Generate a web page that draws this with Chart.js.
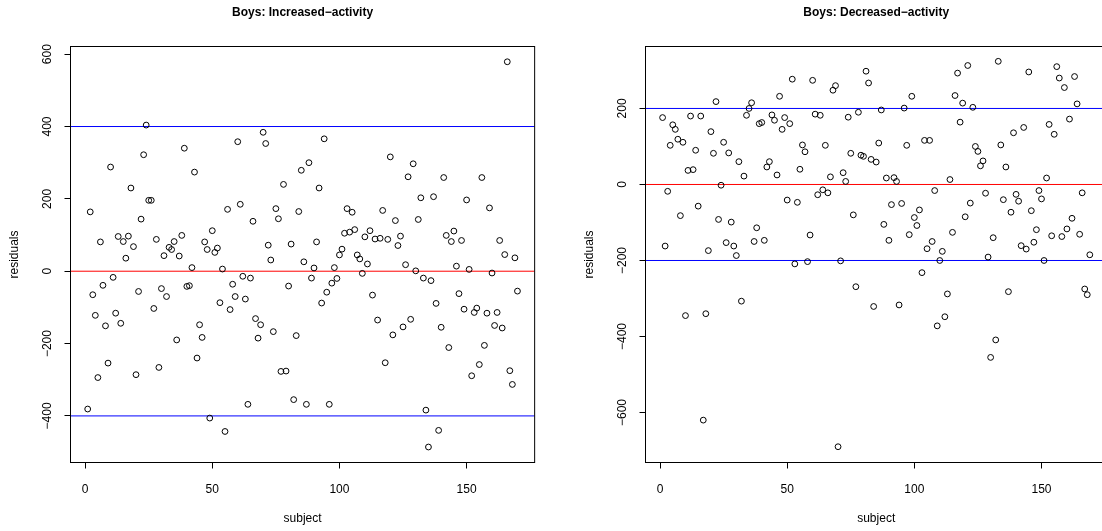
<!DOCTYPE html>
<html>
<head>
<meta charset="utf-8">
<script src="https://cdn.jsdelivr.net/npm/chart.js@4/dist/chart.umd.min.js"></script>
<style>
  html, body { margin: 0; padding: 0; background: #fff; overflow: hidden; width: 1102px; height: 531px; }
  .fig { position: absolute; top: 0; width: 575px; height: 531px; }
  #figL { left: 0; }
  #figR { left: 575px; }
</style>
</head>
<body>
<div class="fig" id="figL"><canvas id="cL" width="575" height="531"></canvas></div>
<div class="fig" id="figR"><canvas id="cR" width="575" height="531"></canvas></div>
<script>
// Residuals by subject, increased-activity group
const residualsIncreased = [
  -381, 164, -65, -122, -294, 81, -39, -151, -254, 288,
  -17, -116, 96, -144, 82, 36, 97, 230, 68, -286,
  -56, 144, 322, 404, 196, 196, -103, 88, -266, -48,
  43, -70, 66, 60, 82, -190, 42, 99, 340, -42,
  -40, 10, 274, -240, -148, -183, 81, 60, -406, 112,
  52, 64, -87, 6, -443, 171, -106, -36, -70, 358,
  185, -14, -77, -368, -19, 138, -131, -185, -148, 384,
  353, 72, 31, -167, 173, 145, -277, 240, -276, -41,
  75, -355, -178, 165, 279, 26, -368, 300, -19, 9,
  81, 230, -88, 366, -58, -368, -33, 10, -20, 45,
  61, 105, 173, 108, 163, 115, 45, 34, -6, 95,
  20, 112, -66, 89, -135, 91, 168, -253, 88, 316,
  -176, 140, 71, 97, -154, 18, 261, -133, 297, 1,
  143, 203, -19, -384, -486, -26, 206, -89, -440, -155,
  259, 99, -211, 82, 111, 14, -62, 85, -105, 197,
  5, -289, -114, -102, -258, 259, -205, -116, 175, -5,
  -150, -114, 85, -157, 46, 579, -275, -313, 37, -55
];

// Residuals by subject, decreased-activity group
const residualsDecreased = [
  176, -162, -18, 103, 157, 145, 119, -82, 111, -345,
  37, 180, 39, 90, -57, 180, -620, -340, -174, 139,
  82, 218, -92, -2, 111, -153, 83, -99, -162, -187,
  60, -307, 22, 182, 200, 215, -150, -114, 160, 163,
  -147, 46, 60, 183, 169, 25, 232, 145, 176, -41,
  160, 277, -209, -47, 40, 104, 86, -203, -133, 274,
  185, -27, 182, -14, 103, -22, 20, 248, 260, -690,
  -201, 31, 8, 177, 82, -80, -269, 190, 77, 74,
  298, 267, 66, -321, 59, 109, 196, -105, 17, -147,
  -53, 18, 8, -317, -50, 201, 103, -132, 232, -87,
  -108, -67, -232, 116, -169, 116, -150, -16, -372, -200,
  -176, -348, -288, 13, -126, 234, 293, 164, 214, -85,
  313, -49, 203, 100, 87, 49, 62, -23, -191, -455,
  -140, -409, 324, 104, -40, 46, -282, -73, 136, -26,
  -44, -161, 150, -170, 296, -69, -152, -119, -16, -38,
  -200, 17, 158, -135, 132, 310, 280, -137, 255, -117,
  172, -89, 284, 212, -131, -22, -275, -290, -185
];

// Subject index runs 1..n for each group
const subjectsIncreased = residualsIncreased.map((_, i) => i + 1);
const subjectsDecreased = residualsDecreased.map((_, i) => i + 1);

const xTickValues = [0, 50, 100, 150];
const yTicksIncreased = [-400, -200, 0, 200, 400, 600];
const yTicksDecreased = [-600, -400, -200, 0, 200];

// Horizontal guide lines: [value, colour]
const guidesIncreased = [[0, '#ff0000'], [400, '#0000ff'], [-400, '#0000ff']];
const guidesDecreased = [[0, '#ff0000'], [200, '#0000ff'], [-200, '#0000ff']];

// Axis limits: data range padded by 4% on each side
const xLimitsIncreased = [-5.76, 176.76];
const xLimitsDecreased = [-5.72, 175.72];
const yLimitsIncreased = [-528.8, 621.2];
const yLimitsDecreased = [-731.5, 363];

const FONT = '"Liberation Sans", Arial, Helvetica, sans-serif';
const fmt = v => (v < 0 ? '\u2212' + Math.abs(v) : String(v));

// Layout of each figure (pixels)
const FIG_W = 575;
const PLOT_LEFT = 70.5;
const PX_PER_SUBJECT = 2.543;

// Frame around the plot region plus all axis texts
const frameAndText = {
  id: 'frameAndText',
  afterDraw(chart, args, opts) {
    const { ctx, chartArea: a, scales: { x, y } } = chart;
    ctx.save();
    ctx.strokeStyle = '#000';
    ctx.lineWidth = 1;
    ctx.strokeRect(a.left, a.top, a.right - a.left, a.bottom - a.top);

    ctx.fillStyle = '#000';
    ctx.textAlign = 'center';
    ctx.textBaseline = 'middle';
    ctx.font = '12px ' + FONT;
    x.ticks.forEach(t => ctx.fillText(fmt(t.value), x.getPixelForValue(t.value), a.bottom + 27));
    y.ticks.forEach(t => {
      ctx.save();
      ctx.translate(a.left - 23, y.getPixelForValue(t.value));
      ctx.rotate(-Math.PI / 2);
      ctx.fillText(fmt(t.value), 0, 0);
      ctx.restore();
    });
    ctx.fillText(opts.xTitle, (a.left + a.right) / 2, a.bottom + 56);
    ctx.save();
    ctx.translate(a.left - 56, (a.top + a.bottom) / 2);
    ctx.rotate(-Math.PI / 2);
    ctx.fillText(opts.yTitle, 0, 0);
    ctx.restore();

    ctx.font = 'bold 12px ' + FONT;
    ctx.fillText(opts.title, (a.left + a.right) / 2, 13);
    ctx.restore();
  }
};

function makePanel(canvasId, title, subjects, residuals, xLimits, yTicks, yLimits, guides) {
  const points = subjects.map((s, i) => ({ x: s, y: residuals[i] }));
  const guideSets = guides.map(([v, col]) => ({
    type: 'line',
    data: [{ x: xLimits[0], y: v }, { x: xLimits[1], y: v }],
    borderColor: col,
    borderWidth: 1,
    pointRadius: 0,
    fill: false
  }));
  const plotWidth = (xLimits[1] - xLimits[0]) * PX_PER_SUBJECT;
  const padRight = FIG_W - PLOT_LEFT - plotWidth;
  return new Chart(document.getElementById(canvasId), {
    type: 'scatter',
    data: {
      datasets: [{
        data: points,
        pointStyle: 'circle',
        pointRadius: 2.9,
        borderWidth: 1,
        borderColor: '#000',
        backgroundColor: 'rgba(0,0,0,0)'
      }, ...guideSets]
    },
    options: {
      responsive: false,
      animation: false,
      events: [],
      layout: { padding: { left: 0, top: 46.5, right: padRight, bottom: 0 } },
      plugins: {
        legend: { display: false },
        tooltip: { enabled: false },
        title: { display: false },
        frameAndText: { title, xTitle: 'subject', yTitle: 'residuals' }
      },
      scales: {
        x: {
          type: 'linear',
          min: xLimits[0], max: xLimits[1],
          afterBuildTicks: s => { s.ticks = xTickValues.map(v => ({ value: v })); },
          afterFit: s => { s.height = 68.5; },
          ticks: { display: false },
          grid: { drawOnChartArea: false, drawTicks: true, tickLength: 6, color: '#000', lineWidth: 1 },
          border: { display: true, color: '#000', width: 1 }
        },
        y: {
          type: 'linear',
          min: yLimits[0], max: yLimits[1],
          afterBuildTicks: s => { s.ticks = yTicks.map(v => ({ value: v })); },
          afterFit: s => { s.width = PLOT_LEFT; },
          ticks: { display: false },
          grid: { drawOnChartArea: false, drawTicks: true, tickLength: 6, color: '#000', lineWidth: 1 },
          border: { display: true, color: '#000', width: 1 }
        }
      }
    },
    plugins: [frameAndText]
  });
}

makePanel('cL', 'Boys: Increased\u2212activity', subjectsIncreased, residualsIncreased,
          xLimitsIncreased, yTicksIncreased, yLimitsIncreased, guidesIncreased);
makePanel('cR', 'Boys: Decreased\u2212activity', subjectsDecreased, residualsDecreased,
          xLimitsDecreased, yTicksDecreased, yLimitsDecreased, guidesDecreased);
</script>
</body>
</html>
